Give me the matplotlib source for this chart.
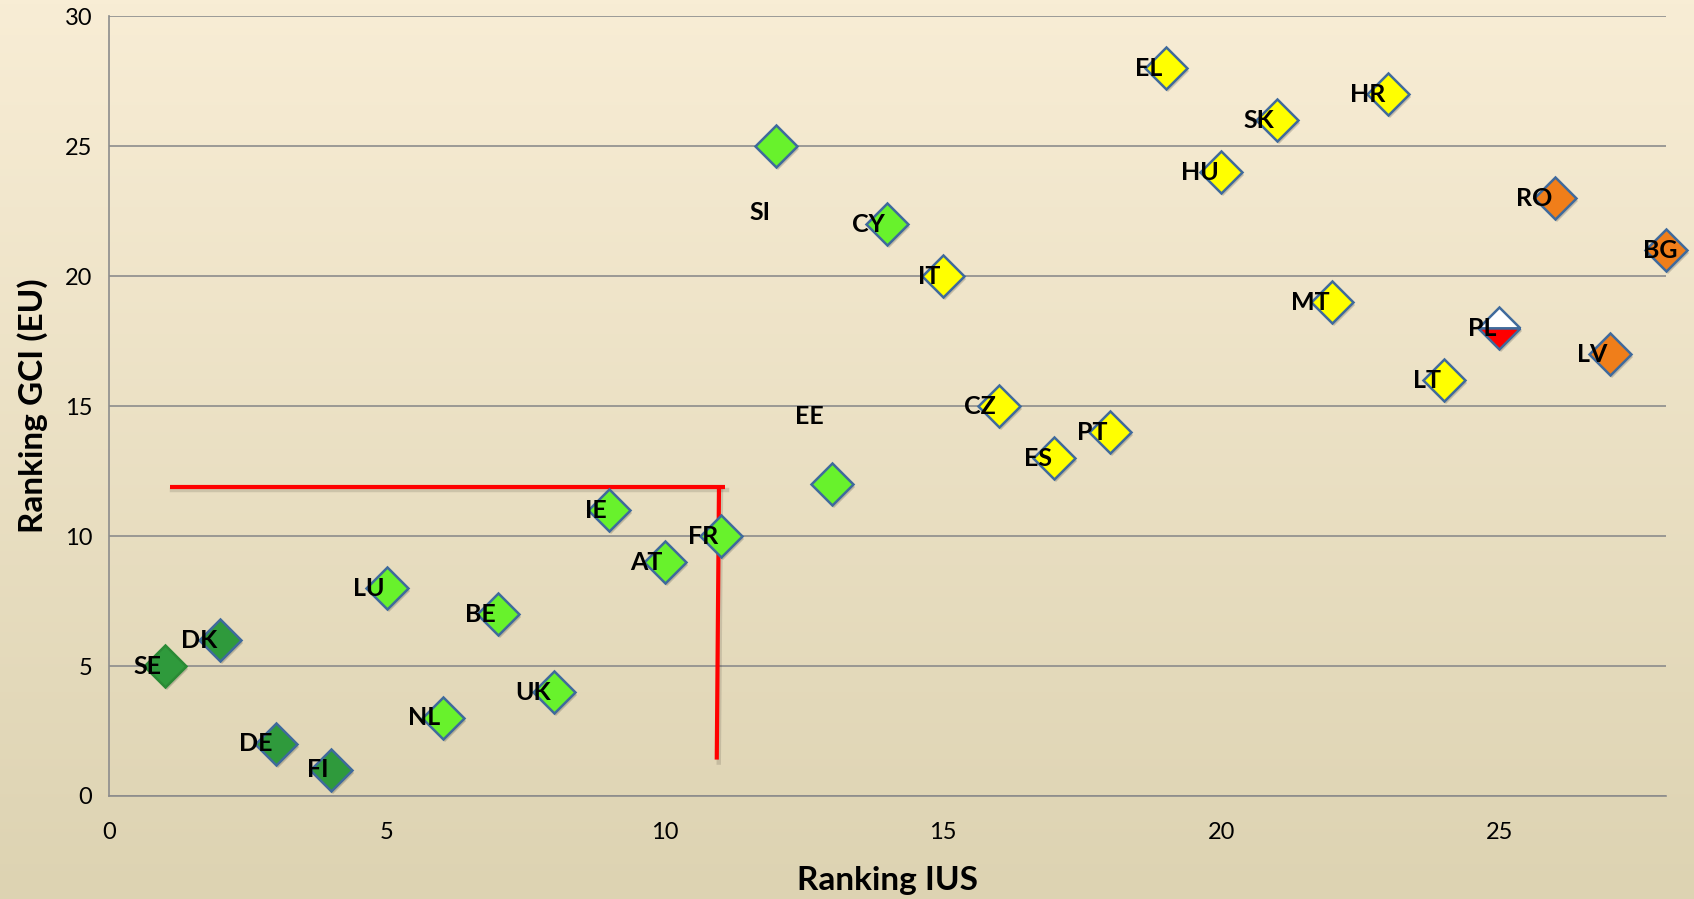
import numpy as np
import matplotlib
matplotlib.use("Agg")
import matplotlib.pyplot as plt
import matplotlib.transforms as mtransforms

plt.rcParams['font.family'] = ['Lato', 'DejaVu Sans']

# ranking IUS (x), ranking GCI (EU) (y)
countries = ["SE", "DK", "DE", "FI", "LU", "NL", "BE", "UK", "IE", "AT", "FR", "SI", "EE", "CY",
             "IT", "CZ", "ES", "PT", "EL", "HU", "SK", "MT", "HR", "LT", "PL", "RO", "LV", "BG"]
ius_rank = [1, 2, 3, 4, 5, 6, 7, 8, 9, 10, 11, 12, 13, 14,
            15, 16, 17, 18, 19, 20, 21, 22, 23, 24, 25, 26, 27, 28]
gci_rank = [5, 6, 2, 1, 8, 3, 7, 4, 11, 9, 10, 25, 12, 22,
            20, 15, 13, 14, 28, 24, 26, 19, 27, 16, 18, 23, 17, 21]
group = ["leader", "leader", "leader", "leader",
         "follower", "follower", "follower", "follower", "follower", "follower", "follower",
         "follower", "follower", "follower",
         "moderate", "moderate", "moderate", "moderate", "moderate", "moderate", "moderate",
         "moderate", "moderate", "moderate", "split", "modest", "modest", "modest"]

# red threshold lines
h_line_x = [1.1, 11.08]
h_line_y = [11.9, 11.9]
v_line_x = [10.97, 10.93]
v_line_y = [11.9, 1.4]

colors = {
    "leader": "#2f9a3c",
    "follower": "#68f22c",
    "moderate": "#ffff00",
    "modest": "#f07e1a",
}
edge = "#3f6a9c"

# label offsets (points), default is just left of the marker
label_offsets = {"BG": (8, 0)}
centered_labels = {"SI": (11.7, 22.45), "EE": (12.6, 14.6)}

fig = plt.figure(figsize=(16.94, 8.99), dpi=100)

# background gradient
bg = fig.add_axes([0, 0, 1, 1], zorder=-10)
grad = np.linspace(0, 1, 256).reshape(-1, 1)
top = np.array([248, 237, 213]) / 255
bottom = np.array([221, 211, 178]) / 255
img = top[None, None, :] * (1 - grad[:, :, None]) + bottom[None, None, :] * grad[:, :, None]
bg.imshow(img, aspect="auto", extent=[0, 1, 0, 1])
bg.axis("off")

ax = fig.add_axes([0.0643, 0.1146, 0.9192, 0.8674])
ax.patch.set_alpha(0)

ax.set_xlim(0, 28)
ax.set_ylim(0, 30)
ax.set_xticks([0, 5, 10, 15, 20, 25])
ax.set_yticks([0, 5, 10, 15, 20, 25, 30])
ax.yaxis.grid(True, color="#8c8c8c", linewidth=1.2)
ax.set_axisbelow(True)
for s in ["top", "right"]:
    ax.spines[s].set_visible(False)
for s in ["left", "bottom"]:
    ax.spines[s].set_color("#8c8c8c")
    ax.spines[s].set_linewidth(1.2)
ax.tick_params(length=0, labelsize=17)
ax.tick_params(axis="x", pad=19)
ax.tick_params(axis="y", pad=12)

# red lines (with soft shadow)
shadow = mtransforms.offset_copy(ax.transData, fig=fig, x=2, y=-3, units="dots")
for xs, ys in [(h_line_x, h_line_y), (v_line_x, v_line_y)]:
    ax.plot(xs, ys, color="black", alpha=0.12, linewidth=3.2, transform=shadow, zorder=2)
    ax.plot(xs, ys, color="#ff0000", linewidth=3, zorder=3, solid_capstyle="butt")

ms = 21
for c, x, y, g in zip(countries, ius_rank, gci_rank, group):
    ax.plot(x, y, marker="D", markersize=ms, color="black", alpha=0.18,
            markeredgewidth=0, transform=shadow, zorder=4, clip_on=False)
    ec = "#2a8a35" if c == "SE" else edge
    if g == "split":
        ax.plot(x, y, marker="D", markersize=ms, fillstyle="top",
                markerfacecolor="white", markerfacecoloralt="#ff0000",
                markeredgecolor=ec, markeredgewidth=1.8, zorder=5, clip_on=False)
    else:
        ax.plot(x, y, marker="D", markersize=ms, markerfacecolor=colors[g],
                markeredgecolor=ec, markeredgewidth=1.8, zorder=5, clip_on=False)

    if c in centered_labels:
        lx, ly = centered_labels[c]
        ax.text(lx, ly, c, ha="center", va="center", fontsize=18, fontweight="bold", zorder=6)
    else:
        dx, dy = label_offsets.get(c, (-2, 0))
        ax.annotate(c, (x, y), xytext=(dx, dy), textcoords="offset points",
                    ha="right", va="center", fontsize=18, fontweight="bold", zorder=6)

ax.set_xlabel("Ranking IUS", fontsize=24, fontweight="bold", labelpad=16)
ax.set_ylabel("Ranking GCI (EU)", fontsize=24, fontweight="bold", labelpad=12)

fig.savefig("out.png", dpi=100)
